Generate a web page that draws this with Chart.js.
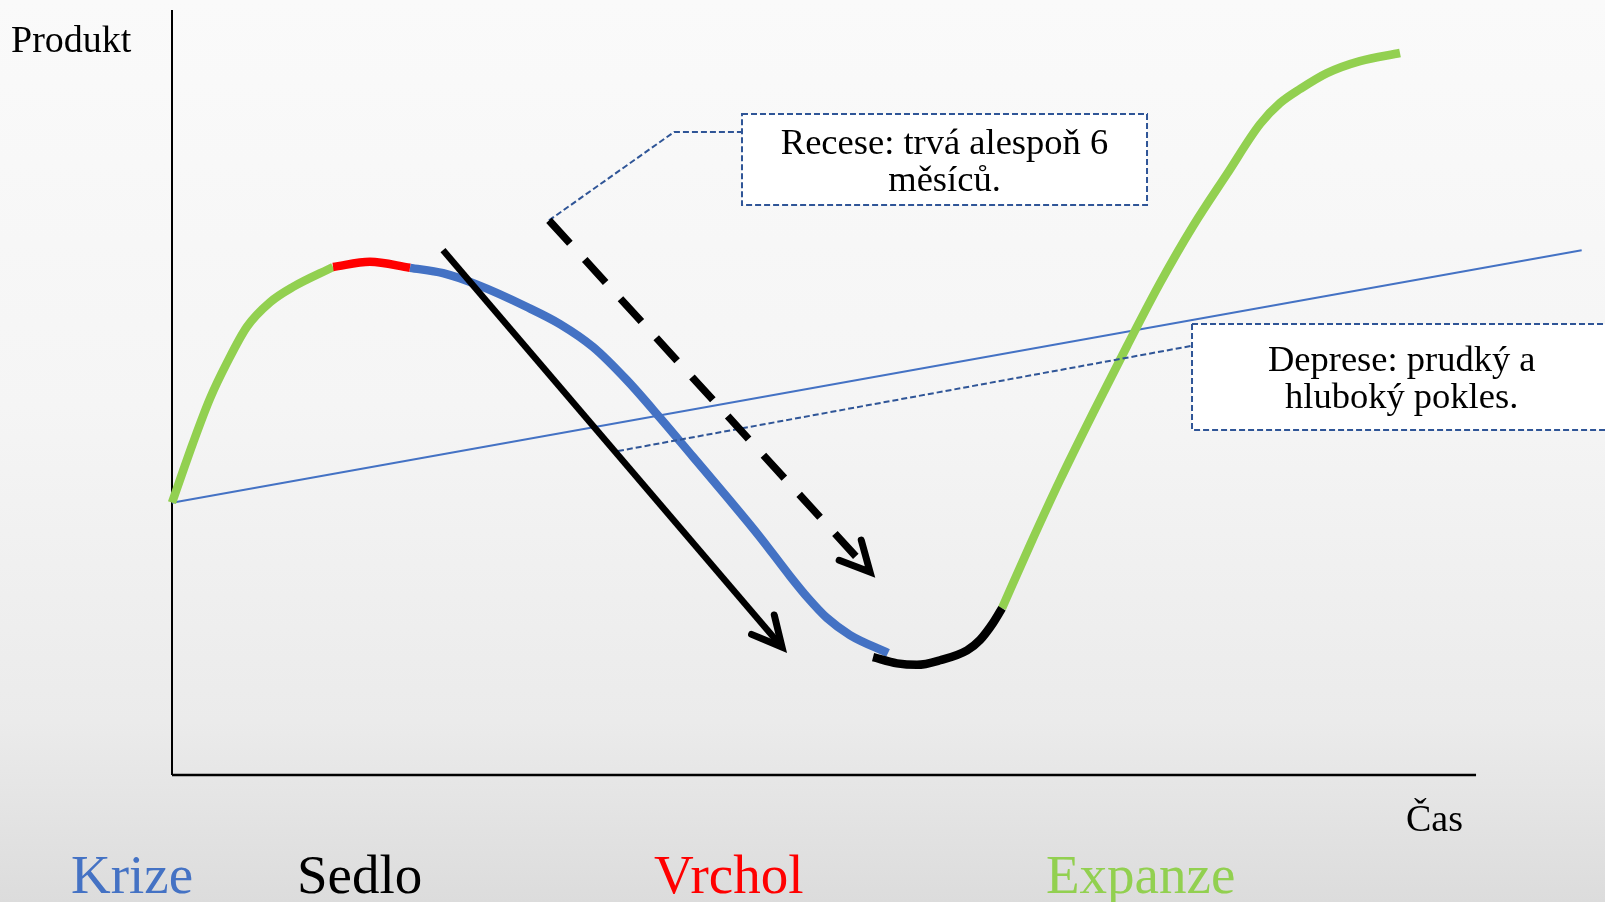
<!DOCTYPE html>
<html>
<head>
<meta charset="utf-8">
<title>Hospodářský cyklus</title>
<script src="https://cdn.jsdelivr.net/npm/chart.js@4.4.1/dist/chart.umd.min.js"></script>
<style>
    html, body { margin: 0; padding: 0; }
    body {
        width: 1605px;
        height: 902px;
        overflow: hidden;
        background: linear-gradient(#fafafa 0%, #f5f5f5 45%, #ebebeb 80%, #dcdcdc 100%);
        font-family: "Liberation Serif", "DejaVu Serif", serif;
    }
    canvas { display: block; }
</style>
</head>
<body>
<canvas id="myChart" width="1605" height="902"></canvas>
<script>
// time (x) goes 0..100 along the drawn axis, product (y) goes 0..100 up the axis

// expanze (start)
var expStartTime = [0, 1.61, 2.91, 4.22, 5.75, 7.52, 9.28, 12.35];
var expStartProd = [35.6, 43.4, 49.2, 53.9, 58.6, 61.8, 63.8, 66.4];

// vrchol
var peakTime = [12.35, 15.18, 18.25];
var peakProd = [66.4, 67.1, 66.3];

// krize
var crisisTime = [18.25, 20.78, 23.39, 27.22, 29.75, 32.29, 34.89, 37.42, 39.95, 42.56, 45.09, 47.39, 48.77, 50.23, 51.99, 54.91];
var crisisProd = [66.3, 65.6, 64.1, 61.18, 58.95, 55.95, 51.6, 46.7, 41.6, 36.34, 31.11, 26.01, 23.14, 20.52, 18.3, 15.95];

// sedlo
var troughTime = [53.76, 55.6, 57.13, 58.9, 60.97, 61.96, 62.96, 63.65];
var troughProd = [15.4, 14.6, 14.4, 15.0, 16.3, 17.65, 19.87, 21.8];

// expanze (end)
var expEndTime = [63.65, 65.80, 68.10, 70.63, 73.24, 75.77, 78.30, 80.90, 83.44, 84.97, 86.50, 88.57, 91.10, 94.17];
var expEndProd = [21.8, 30.07, 38.56, 47.32, 56.08, 64.31, 71.76, 78.56, 85.10, 87.84, 89.67, 91.76, 93.33, 94.38];

// dlouhodobý trend
var trendTime = [0, 108.1];
var trendProd = [35.6, 68.6];

// arrows: solid (deprese), dashed (recese)
var solidArrowTime = [20.78, 46.78];
var solidArrowProd = [68.6, 16.73];
var dashArrowTime = [28.91, 53.53];
var dashArrowProd = [72.5, 26.54];

// callout leaders
var leader1Time = [28.91, 38.5, 43.71];
var leader1Prod = [72.5, 84.05, 84.05];
var leader2Time = [34.2, 78.2];
var leader2Prod = [42.35, 56.1];

var calloutTexts = [["Recese: trvá alespoň 6", "měsíců."], ["Deprese: prudký a", "hluboký pokles."]];
var phaseNames = ["Krize", "Sedlo", "Vrchol", "Expanze"];
var phaseColors = ["#4472C4", "#000000", "#FF0000", "#92D050"];
var axisNames = ["Produkt", "Čas"];

function pts(xs, ys) {
    return xs.map(function (x, i) { return { x: x, y: ys[i] }; });
}

var serif = '"Liberation Serif", "DejaVu Serif", serif';

var calloutPlugin = {
    id: 'callouts',
    afterDatasetsDraw: function (chart) {
        var ctx = chart.ctx;
        var xs = chart.scales.x, ys = chart.scales.y;

        // arrow heads
        chart.data.datasets.forEach(function (ds, i) {
            if (!ds.arrowHead) return;
            var meta = chart.getDatasetMeta(i);
            var p0 = meta.data[meta.data.length - 2], p1 = meta.data[meta.data.length - 1];
            var ang = Math.atan2(p1.y - p0.y, p1.x - p0.x);
            var len = 33, spread = 0.47;
            ctx.save();
            ctx.strokeStyle = '#000';
            ctx.lineWidth = 7;
            ctx.lineCap = 'round';
            ctx.lineJoin = 'miter';
            ctx.beginPath();
            ctx.moveTo(p1.x - len * Math.cos(ang - spread), p1.y - len * Math.sin(ang - spread));
            ctx.lineTo(p1.x, p1.y);
            ctx.lineTo(p1.x - len * Math.cos(ang + spread), p1.y - len * Math.sin(ang + spread));
            ctx.stroke();
            ctx.restore();
        });

        // boxes
        var boxes = [
            { x0: 43.71, x1: 74.77, y0: 86.4, y1: 74.5, cx: 59.24, lines: calloutTexts[0], top: 40 },
            { x0: 78.22, x1: 110.7, y0: 58.95, y1: 45.1, cx: 94.3, lines: calloutTexts[1], top: 47 }
        ];
        boxes.forEach(function (b) {
            var left = xs.getPixelForValue(b.x0), right = xs.getPixelForValue(b.x1);
            var top = ys.getPixelForValue(b.y0), bottom = ys.getPixelForValue(b.y1);
            ctx.save();
            ctx.fillStyle = '#ffffff';
            ctx.fillRect(left, top, right - left, bottom - top);
            ctx.strokeStyle = '#2F5597';
            ctx.lineWidth = 2;
            ctx.setLineDash([6, 3]);
            ctx.strokeRect(left, top, right - left, bottom - top);
            ctx.setLineDash([]);
            ctx.fillStyle = '#000';
            ctx.font = '36.5px ' + serif;
            ctx.textAlign = 'center';
            ctx.textBaseline = 'alphabetic';
            var cx = xs.getPixelForValue(b.cx);
            b.lines.forEach(function (t, k) {
                ctx.fillText(t, cx, top + b.top + k * 37);
            });
            ctx.restore();
        });

        // axis names and phase labels
        ctx.save();
        ctx.fillStyle = '#000';
        ctx.textAlign = 'left';
        ctx.textBaseline = 'alphabetic';
        ctx.font = '38px ' + serif;
        ctx.fillText(axisNames[0], 11, 52);
        ctx.fillText(axisNames[1], 1406, 831);
        ctx.font = '55px ' + serif;
        var phaseX = [71, 297, 654, 1046];
        phaseNames.forEach(function (n, k) {
            ctx.fillStyle = phaseColors[k];
            ctx.fillText(n, phaseX[k], 893);
        });
        ctx.restore();
    }
};

function lineSet(data, color, width, order, extra) {
    var ds = {
        data: data,
        borderColor: color,
        borderWidth: width,
        pointRadius: 0,
        fill: false,
        cubicInterpolationMode: 'monotone',
        clip: false,
        borderCapStyle: 'butt',
        order: order
    };
    for (var k in extra) ds[k] = extra[k];
    return ds;
}

var straight = { cubicInterpolationMode: 'default', tension: 0 };

function drawChart() {
    var ctx = document.getElementById('myChart').getContext('2d');
    return new Chart(ctx, {
        type: 'line',
        data: {
            datasets: [
                // axes
                lineSet([{ x: 0, y: 0 }, { x: 0, y: 100 }], '#000', 2, 9, straight),
                lineSet([{ x: 0, y: 0 }, { x: 100, y: 0 }], '#000', 2.5, 9, straight),
                // trend
                lineSet(pts(trendTime, trendProd), '#4472C4', 2, 8, straight),
                // cycle
                lineSet(pts(expStartTime, expStartProd), '#92D050', 8.5, 5),
                lineSet(pts(peakTime, peakProd), '#FF0000', 8.5, 4),
                lineSet(pts(crisisTime, crisisProd), '#4472C4', 8.5, 6),
                lineSet(pts(troughTime, troughProd), '#000000', 8.5, 5),
                lineSet(pts(expEndTime, expEndProd), '#92D050', 8.5, 6),
                // leaders
                lineSet(pts(leader1Time, leader1Prod), '#2F5597', 2, 3, { cubicInterpolationMode: 'default', tension: 0, borderDash: [6, 3] }),
                lineSet(pts(leader2Time, leader2Prod), '#2F5597', 2, 3, { cubicInterpolationMode: 'default', tension: 0, borderDash: [6, 3] }),
                // arrows
                lineSet(pts(solidArrowTime, solidArrowProd), '#000', 6.5, 1, { cubicInterpolationMode: 'default', tension: 0, arrowHead: true }),
                lineSet(pts(dashArrowTime, dashArrowProd), '#000', 7.5, 1, { cubicInterpolationMode: 'default', tension: 0, borderDash: [31, 22], arrowHead: true })
            ]
        },
        options: {
            responsive: false,
            animation: false,
            events: [],
            layout: { padding: 0 },
            plugins: {
                legend: { display: false },
                tooltip: { enabled: false }
            },
            scales: {
                x: { type: 'linear', min: -13.19, max: 109.89, display: false },
                y: { type: 'linear', min: -16.6, max: 101.31, display: false }
            }
        },
        plugins: [calloutPlugin]
    });
}

var chart = null;
var fontReady = document.fonts && document.fonts.load
    ? Promise.all([document.fonts.load('36px "Liberation Serif"'), document.fonts.load('36px "DejaVu Serif"')])
    : Promise.resolve();
fontReady.then(function () { chart = drawChart(); }, function () { chart = drawChart(); });
</script>
</body>
</html>
